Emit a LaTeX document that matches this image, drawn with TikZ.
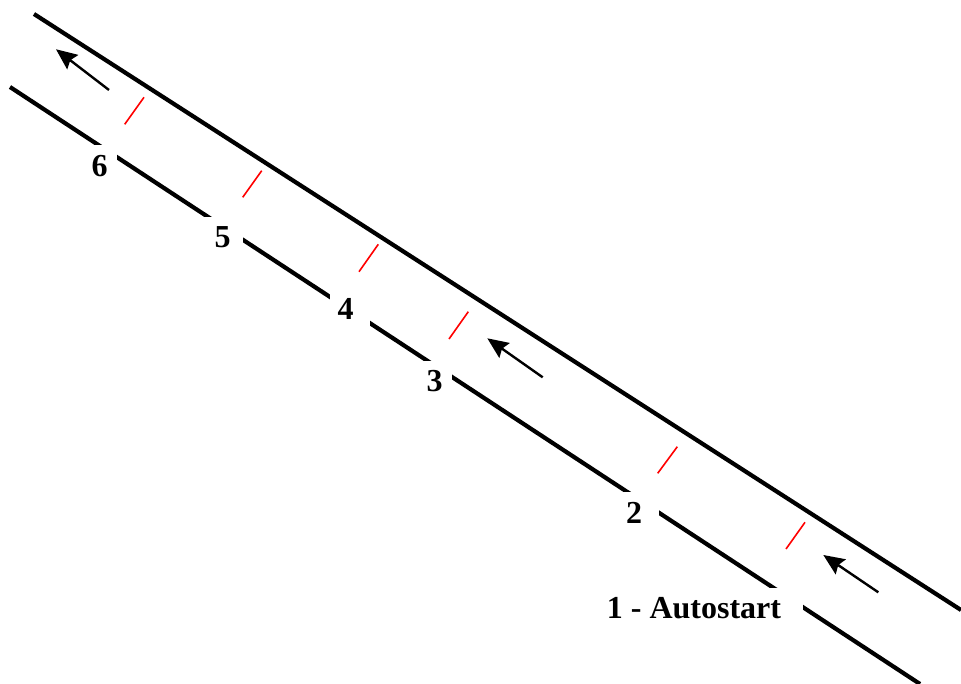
\documentclass[tikz,border=0pt]{standalone}
\usepackage{fontspec}
\setmainfont{Liberation Serif}
\usetikzlibrary{arrows.meta}
\begin{document}
\begin{tikzpicture}[x=1pt,y=-1pt,
  roadline/.style={line width=4.2pt},
  tick/.style={red, line width=1.6pt},
  dirarrow/.style={line width=2.4pt, -{Stealth[length=21pt,width=18pt,inset=3pt]}},
  gapbox/.style={fill=white, draw=none, inner sep=0pt, minimum width=40pt, minimum height=44pt, anchor=north east},
  lbl/.style={inner sep=0pt, font=\fontsize{32}{36}\selectfont\bfseries}]
\useasboundingbox (0,0) rectangle (961,684);
% road edges
\coordinate (t0) at (34,14);
\coordinate (t1) at (961,610);
\coordinate (b0) at (10,87);
\coordinate (b1) at (920,684);
\draw[roadline] (t0) -- (t1);
\draw[roadline] (b0) -- (b1);
% white boxes behind labels
\node[gapbox] (g6) at (117,145) {};
\node[gapbox] (g5) at (243,217) {};
\node[gapbox] (g4) at (370,293) {};
\node[gapbox] (g3) at (452,361) {};
\node[gapbox] (g2) at (659,492) {};
\node[gapbox, minimum width=200pt] (g1) at (803,588) {};
% labels
\node[lbl] (l6) at (99.5,166) {6};
\node[lbl] (l5) at (222.5,237) {5};
\node[lbl] (l4) at (345.5,309) {4};
\node[lbl] (l3) at (434.5,381) {3};
\node[lbl] (l2) at (634,513) {2};
\node[lbl] (l1) at (694,608.5) {1 - Autostart};
% red ticks
\coordinate (r1a) at (144,97.3);   \coordinate (r1b) at (124.7,124.3);
\coordinate (r2a) at (261.7,170.7); \coordinate (r2b) at (242.7,197.3);
\coordinate (r3a) at (378.3,244.3); \coordinate (r3b) at (359,271.7);
\coordinate (r4a) at (468.3,311.7); \coordinate (r4b) at (449,339);
\coordinate (r5a) at (677.3,446.7); \coordinate (r5b) at (657.7,473.3);
\coordinate (r6a) at (805,522.3);   \coordinate (r6b) at (786,549);
\foreach \i in {1,...,6} \draw[tick] (r\i a) -- (r\i b);
% direction arrows
\coordinate (a1s) at (109,90);    \coordinate (a1e) at (56,49.3);
\coordinate (a2s) at (542.7,377.3); \coordinate (a2e) at (487.3,338.3);
\coordinate (a3s) at (878.3,592.3); \coordinate (a3e) at (823.3,555);
\foreach \i in {1,2,3} \draw[dirarrow] (a\i s) -- (a\i e);
\end{tikzpicture}
\end{document}
